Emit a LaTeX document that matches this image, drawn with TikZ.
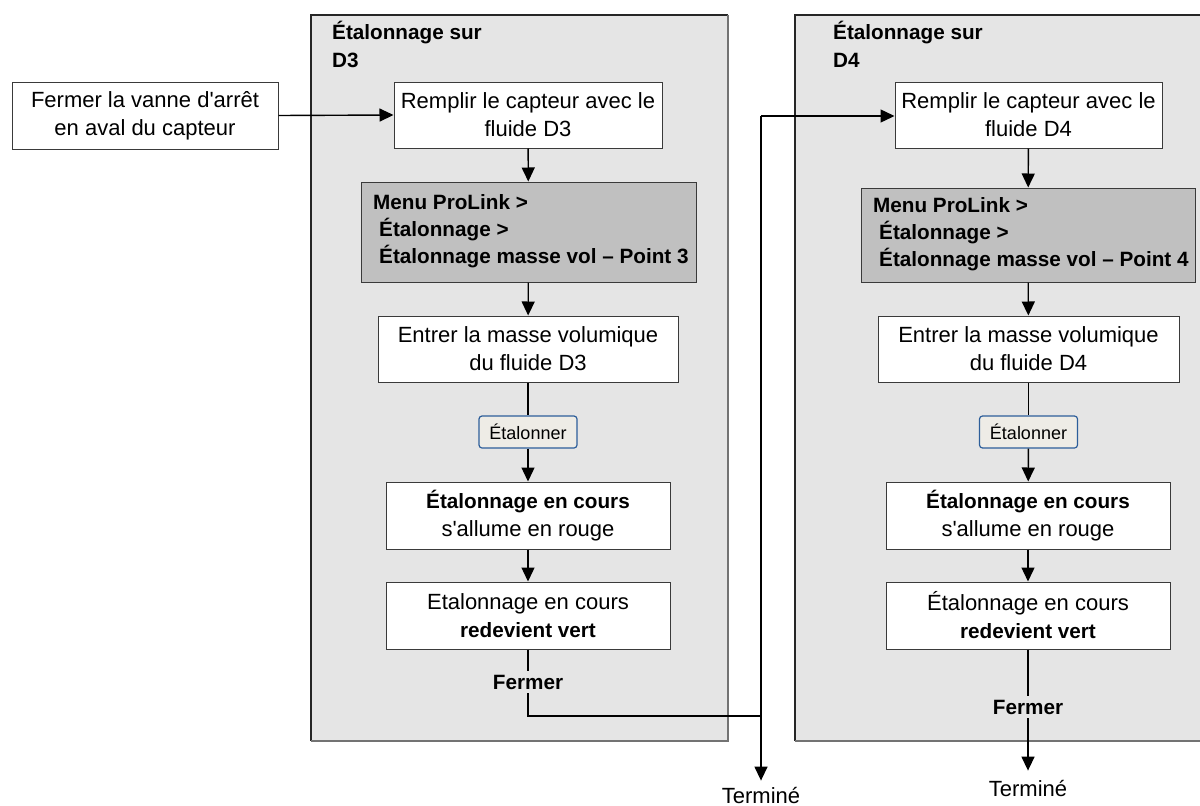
\documentclass[tikz,border=0pt]{standalone}
\usepackage{fontspec}
\setmainfont{Liberation Sans}[Ligatures=TeXOff]
\usetikzlibrary{arrows.meta}
\definecolor{panelfill}{HTML}{E5E5E5}
\definecolor{menufill}{HTML}{C0C0C0}
\definecolor{btnfill}{HTML}{EEECE6}
\definecolor{btnedge}{HTML}{2D5E9A}
\definecolor{boxedge}{HTML}{3A3A3A}
\newcommand{\bt}[1]{{\fontsize{20.7}{28}\selectfont\bfseries #1}}
\begin{document}
\begin{tikzpicture}[x=1pt,y=-1pt,
  txt/.style={font=\fontsize{22}{28}\selectfont},
  btxt/.style={font=\fontsize{20.7}{28}\selectfont\bfseries},
  stepbox/.style={txt,draw=boxedge,line width=1pt,fill=white,align=center,inner sep=0pt},
  menubox/.style={draw=boxedge,line width=1pt,fill=menufill,inner sep=0pt},
  btn/.style={draw=btnedge,line width=1.2pt,fill=btnfill,rounded corners=3pt,
    font=\fontsize{18}{22}\selectfont,inner sep=0pt,minimum width=98pt,minimum height=32pt},
  lbl/.style={btxt,inner sep=4pt},
  conn/.style={line width=1.4pt,black},
  arr/.style={conn,-{Triangle[length=14pt,width=13pt]}}
]
\useasboundingbox (0,0) rectangle (1200,806);
% panels
\fill[panelfill] (311,15) rectangle (728,741);
\draw[black!85,line width=1.2pt] (311,741) -- (311,15) -- (728,15);
\draw[black!55,line width=1.2pt] (728,15) -- (728,741) -- (311,741);
\fill[panelfill] (795,15) rectangle (1210,741);
\draw[black!85,line width=1.2pt] (795,741) -- (795,15) -- (1210,15);
\draw[black!55,line width=1.2pt] (795,741) -- (1210,741);
% titles
\node[btxt,anchor=north west,align=left,inner sep=0pt] (t3) at (332,21) {Étalonnage sur\\D3};
\node[btxt,anchor=north west,align=left,inner sep=0pt] (t4) at (833,21) {Étalonnage sur\\D4};
% left start box
\node[stepbox,minimum width=266pt,minimum height=67pt] (vanne) at (145,115.5) {Fermer la vanne d'arrêt\\en aval du capteur};
% column D3
\node[stepbox,minimum width=268pt,minimum height=66pt] (rem3) at (528,115) {Remplir le capteur avec le\\fluide D3};
\node[menubox,minimum width=335pt,minimum height=100pt] (menu3) at (528.5,232) {};
\node[font=\fontsize{20.7}{27}\selectfont\bfseries,anchor=west,align=left,inner sep=0pt] (m3) at (373,231) {Menu ProLink >\\\hspace*{6pt}Étalonnage >\\\hspace*{6pt}Étalonnage masse vol – Point 3};
\node[stepbox,minimum width=300pt,minimum height=66pt] (ent3) at (528,349) {Entrer la masse volumique\\du fluide D3};
\node[btn] (btn3) at (528,432) {Étalonner};
\node[stepbox,minimum width=284pt,minimum height=67pt] (enc3) at (528,515.5) {\bt{Étalonnage en cours}\\s'allume en rouge};
\node[stepbox,minimum width=284pt,minimum height=67pt] (ver3) at (528,615.5) {Etalonnage en cours\\\bt{redevient vert}};
\node[lbl] (ferm3) at (528,682) {Fermer};
\coordinate (j3) at (761,716);
\coordinate (j4) at (761,116);
\node[txt,inner sep=0pt] (term3) at (761,795) {Terminé};
% column D4
\node[stepbox,minimum width=267pt,minimum height=66pt] (rem4) at (1028.5,115) {Remplir le capteur avec le\\fluide D4};
\node[menubox,minimum width=334pt,minimum height=94pt] (menu4) at (1028,235) {};
\node[font=\fontsize{20.7}{27}\selectfont\bfseries,anchor=west,align=left,inner sep=0pt] (m4) at (873,234) {Menu ProLink >\\\hspace*{6pt}Étalonnage >\\\hspace*{6pt}Étalonnage masse vol – Point 4};
\node[stepbox,minimum width=301pt,minimum height=66pt] (ent4) at (1028.5,349) {Entrer la masse volumique\\du fluide D4};
\node[btn] (btn4) at (1028.5,432) {Étalonner};
\node[stepbox,minimum width=284pt,minimum height=67pt] (enc4) at (1028,515.5) {\bt{Étalonnage en cours}\\s'allume en rouge};
\node[stepbox,minimum width=284pt,minimum height=67pt] (ver4) at (1028,615.5) {Étalonnage en cours\\\bt{redevient vert}};
\node[lbl] (ferm4) at (1028,707) {Fermer};
\node[txt,inner sep=0pt] (term4) at (1028,788) {Terminé};
% connectors
\draw[arr] (vanne.east) -- (rem3.west);
\draw[arr] (rem3) -- (menu3);
\draw[arr] (menu3) -- (ent3);
\draw[conn] (ent3) -- (btn3);
\draw[arr] (btn3) -- (enc3);
\draw[arr] (enc3) -- (ver3);
\draw[conn] (ver3) -- (ferm3);
\draw[conn] (ferm3.south) |- (j3);
\draw[arr] (j4) -- ([yshift=6pt]term3.north);
\draw[arr] (j4) -- (rem4.west |- j4);
\draw[arr] (rem4) -- (menu4);
\draw[arr] (menu4) -- (ent4);
\draw[conn] (ent4) -- (btn4);
\draw[arr] (btn4) -- (enc4);
\draw[arr] (enc4) -- (ver4);
\draw[conn] (ver4) -- (ferm4);
\draw[arr] (ferm4) -- ([yshift=9pt]term4.north);
\end{tikzpicture}
\end{document}
